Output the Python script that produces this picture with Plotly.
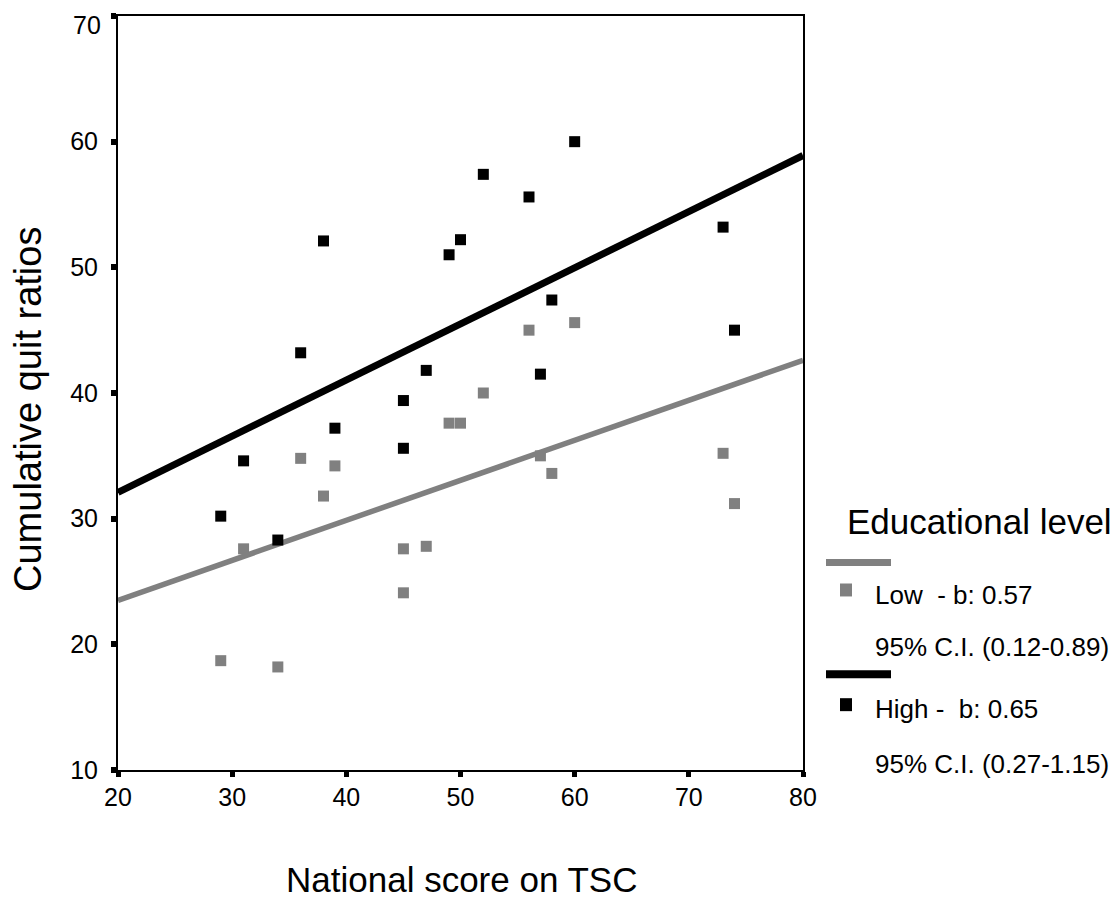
import plotly.graph_objects as go

# Data
tsc_scores = [29, 31, 34, 36, 38, 39, 45, 45, 47, 49, 50, 52, 56, 57, 58, 60, 73, 74]
low_quit = [18.7, 27.6, 18.2, 34.8, 31.8, 34.2, 24.1, 27.6, 27.8, 37.6, 37.6, 40.0, 45.0, 35.0, 33.6, 45.6, 35.2, 31.2]
high_quit = [30.2, 34.6, 28.3, 43.2, 52.1, 37.2, 35.6, 39.4, 41.8, 51.0, 52.2, 57.4, 55.6, 41.5, 47.4, 60.0, 53.2, 45.0]

fit_x = [20, 80]
low_fit = [23.5, 42.6]
high_fit = [32.1, 58.9]

x_ticks = [20, 30, 40, 50, 60, 70, 80]
y_ticks = [10, 20, 30, 40, 50, 60, 70]

legend_title = "Educational level"
legend_low = ["Low  - b: 0.57", "95% C.I. (0.12-0.89)"]
legend_high = ["High -  b: 0.65", "95% C.I. (0.27-1.15)"]

GREY = "#808080"
BLACK = "#000000"
FONT = "Liberation Sans, Arial, sans-serif"

fig = go.Figure()
fig.add_trace(go.Scatter(x=fit_x, y=low_fit, mode="lines",
                         line=dict(color=GREY, width=5.5), showlegend=False, hoverinfo="skip"))
fig.add_trace(go.Scatter(x=fit_x, y=high_fit, mode="lines",
                         line=dict(color=BLACK, width=7), showlegend=False, hoverinfo="skip"))
fig.add_trace(go.Scatter(x=tsc_scores, y=low_quit, mode="markers",
                         marker=dict(symbol="square", size=11, color=GREY, line=dict(width=0)),
                         name="Low", showlegend=False))
fig.add_trace(go.Scatter(x=tsc_scores, y=high_quit, mode="markers",
                         marker=dict(symbol="square", size=11, color=BLACK, line=dict(width=0)),
                         name="High", showlegend=False))

# plot area in screen pixels (page has an 8px body margin)
SL, SR, ST, SB = 118, 803, 14, 770
OFF = 8
W, H = 1120, 899
pw, ph = SR - SL, SB - ST

TICKLEN = 5
Y_STANDOFF = 8


def px(xp):
    return (xp - SL) / pw


def py(yp):
    return (SB - yp) / ph


def ann(text, x, y, size, xanchor="left", angle=0):
    return dict(text=text, x=px(x), y=py(y), xref="paper", yref="paper",
                textangle=angle, showarrow=False,
                font=dict(size=size, color="black", family=FONT),
                xanchor=xanchor, yanchor="middle")


annotations = [
    ann("Cumulative quit ratios", 28, 409, 38, xanchor="center", angle=-90),
    ann("National score on TSC", 461, 880, 35, xanchor="center"),
    ann(legend_title, 845, 521, 35),
    ann(legend_low[0], 873, 595, 26),
    ann(legend_low[1], 873, 647, 26),
    ann(legend_high[0], 873, 709, 26),
    ann(legend_high[1], 873, 764, 26),
    # top y tick label, drawn as an annotation so it stays inside the page top
    dict(text=str(y_ticks[-1]), x=0, xref="paper", y=y_ticks[-1], yref="y",
         xanchor="right", yanchor="top", xshift=-(TICKLEN + Y_STANDOFF + 3), yshift=ST - OFF,
         borderpad=0,
         showarrow=False, font=dict(size=25, color="black", family=FONT)),
]

shapes = [
    dict(type="line", xref="paper", yref="paper", x0=px(826), x1=px(891), y0=py(562), y1=py(562),
         line=dict(color=GREY, width=7)),
    dict(type="rect", xref="paper", yref="paper", x0=px(840), x1=px(852), y0=py(583), y1=py(596),
         line=dict(width=0), fillcolor=GREY),
    dict(type="line", xref="paper", yref="paper", x0=px(826), x1=px(891), y0=py(674), y1=py(674),
         line=dict(color=BLACK, width=8)),
    dict(type="rect", xref="paper", yref="paper", x0=px(840), x1=px(852), y0=py(698), y1=py(711),
         line=dict(width=0), fillcolor=BLACK),
]

fig.update_layout(
    width=W, height=H,
    margin=dict(l=SL - OFF, r=W - (SR - OFF), t=ST - OFF, b=H - (SB - OFF), pad=0),
    paper_bgcolor="white", plot_bgcolor="white",
    font=dict(family=FONT, size=25, color="black"),
    annotations=annotations, shapes=shapes,
    showlegend=False,
)
fig.update_xaxes(range=[20, 80], tickvals=x_ticks, ticks="outside", ticklen=TICKLEN, tickwidth=5,
                 tickcolor="black", showline=True, linecolor="black", linewidth=2, mirror=True,
                 showgrid=False, zeroline=False, ticklabelstandoff=-1,
                 tickfont=dict(size=25, family=FONT, color="black"))
fig.update_yaxes(range=[10, 70], tickvals=y_ticks,
                 ticktext=[str(v) for v in y_ticks[:-1]] + [""],
                 ticks="outside", ticklen=TICKLEN, tickwidth=6,
                 tickcolor="black", showline=True, linecolor="black", linewidth=2, mirror=True,
                 showgrid=False, zeroline=False, ticklabelstandoff=Y_STANDOFF,
                 tickfont=dict(size=25, family=FONT, color="black"))

fig.write_html("out.html")
